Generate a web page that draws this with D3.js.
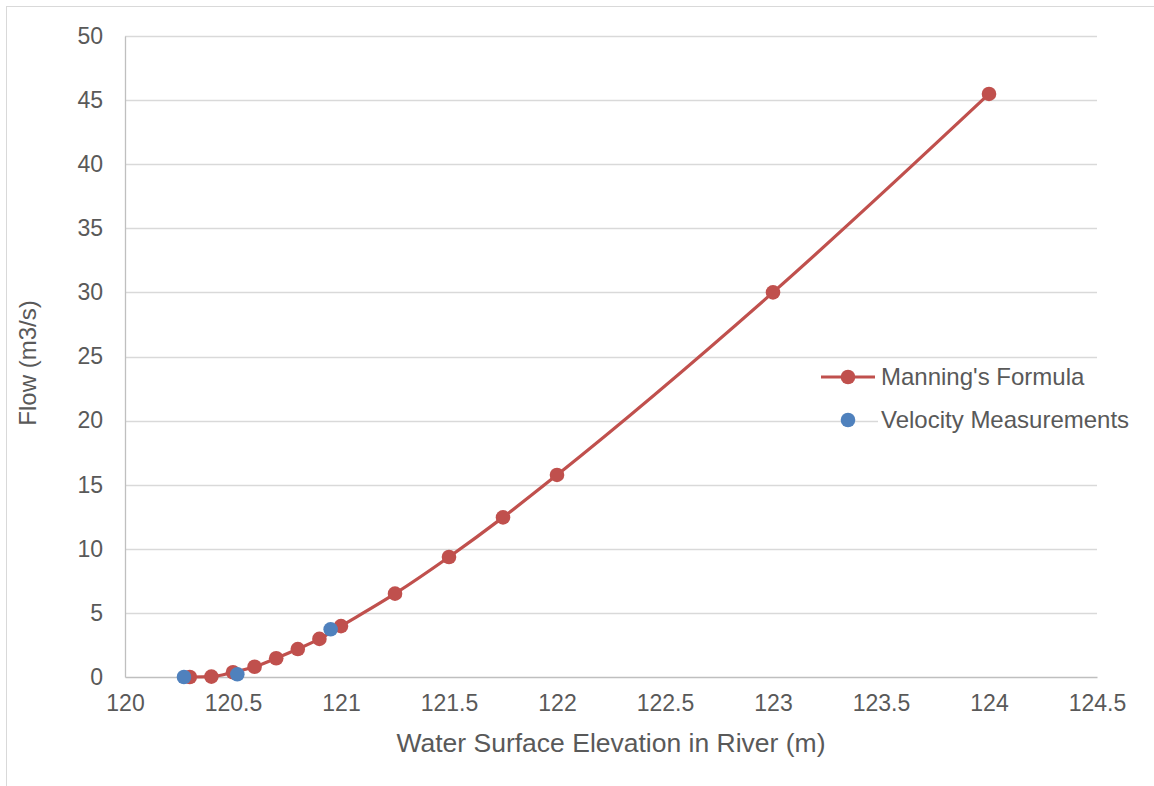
<!DOCTYPE html>
<html>
<head>
<meta charset="utf-8">
<script src="https://cdn.jsdelivr.net/npm/d3@7"></script>
<style>
  body { margin: 0; background: #fff; }
  svg { display: block; font-family: "Liberation Sans", Arial, sans-serif; }
</style>
</head>
<body>
<svg id="chart" width="1154" height="786"></svg>
<script>
// Rating curve: water surface elevation (m) vs flow (m3/s)
const manningElev = [120.3, 120.4, 120.5, 120.6, 120.7, 120.8, 120.9, 121.0, 121.25, 121.5, 121.75, 122.0, 123.0, 124.0];
const manningFlow = [0.0, 0.03, 0.37, 0.8, 1.46, 2.18, 2.97, 3.97, 6.5, 9.36, 12.45, 15.76, 30.0, 45.48];
const measuredElev = [120.273, 120.52, 120.952];
const measuredFlow = [0.0, 0.21, 3.72];
const xTicks = [120, 120.5, 121, 121.5, 122, 122.5, 123, 123.5, 124, 124.5];
const yTicks = [0, 5, 10, 15, 20, 25, 30, 35, 40, 45, 50];
const seriesNames = ["Manning's Formula", "Velocity Measurements"];

const RED = "#C0504D", BLUE = "#4F81BD", TEXT = "#595959", GRID = "#d9d9d9";

const svg = d3.select("#chart");
const x = d3.scaleLinear().domain([120, 124.5]).range([125, 1097]);
const y = d3.scaleLinear().domain([0, 50]).range([677, 36]);

// outer chart frame
svg.append("rect").attr("x", 6.5).attr("y", 6.5).attr("width", 1160).attr("height", 800)
  .attr("fill", "none").attr("stroke", GRID).attr("stroke-width", 1);

// horizontal gridlines
svg.append("g").selectAll("line").data(yTicks.filter(d => d > 0)).join("line")
  .attr("x1", x(120)).attr("x2", x(124.5))
  .attr("y1", d => Math.round(y(d)) + 0.5).attr("y2", d => Math.round(y(d)) + 0.5)
  .attr("stroke", GRID).attr("stroke-width", 1.3);

// axes
const yAxis = svg.append("g").attr("transform", `translate(${x(120)},0)`)
  .call(d3.axisLeft(y).tickValues(yTicks).tickSize(0).tickPadding(22).tickFormat(d3.format("d")));
const xAxis = svg.append("g").attr("transform", `translate(0,${y(0)})`)
  .call(d3.axisBottom(x).tickValues(xTicks).tickSize(0).tickPadding(18).tickFormat(d => String(d)));
[xAxis, yAxis].forEach(a => {
  a.select(".domain").attr("stroke", "#bfbfbf").attr("stroke-width", 1.3);
  a.selectAll("text").attr("fill", TEXT).style("font-size", "23px");
});

// axis titles
svg.append("text").attr("x", 611).attr("y", 752).attr("text-anchor", "middle")
  .attr("fill", TEXT).style("font-size", "26.5px").text("Water Surface Elevation in River (m)");
svg.append("text").attr("transform", "translate(36,363) rotate(-90)").attr("text-anchor", "middle")
  .attr("fill", TEXT).style("font-size", "24px").text("Flow (m3/s)");

// Manning's formula curve
const manning = manningElev.map((e, i) => ({ e, q: manningFlow[i] }));
svg.append("path").datum(manning)
  .attr("fill", "none").attr("stroke", RED).attr("stroke-width", 3.2).attr("stroke-linejoin", "round")
  .attr("d", d3.line().x(d => x(d.e)).y(d => y(d.q)).curve(d3.curveMonotoneX));
svg.append("g").selectAll("circle").data(manning).join("circle")
  .attr("cx", d => x(d.e)).attr("cy", d => y(d.q)).attr("r", 7.3).attr("fill", RED);

// measured points
const measured = measuredElev.map((e, i) => ({ e, q: measuredFlow[i] }));
svg.append("g").selectAll("circle").data(measured).join("circle")
  .attr("cx", d => x(d.e)).attr("cy", d => y(d.q)).attr("r", 7.3).attr("fill", BLUE);

// legend
const lg = svg.append("g");
lg.append("rect").attr("x", 878).attr("y", 402).attr("width", 260).attr("height", 34).attr("fill", "#fff");
lg.append("line").attr("x1", 821).attr("x2", 875).attr("y1", 377).attr("y2", 377)
  .attr("stroke", RED).attr("stroke-width", 3.2);
lg.append("circle").attr("cx", 848).attr("cy", 377).attr("r", 7.3).attr("fill", RED);
lg.append("circle").attr("cx", 848).attr("cy", 420).attr("r", 7.3).attr("fill", BLUE);
lg.selectAll("text").data(seriesNames).join("text")
  .attr("x", 881).attr("y", (d, i) => 385 + i * 43)
  .attr("fill", TEXT).style("font-size", "24px").text(d => d);
</script>
</body>
</html>
